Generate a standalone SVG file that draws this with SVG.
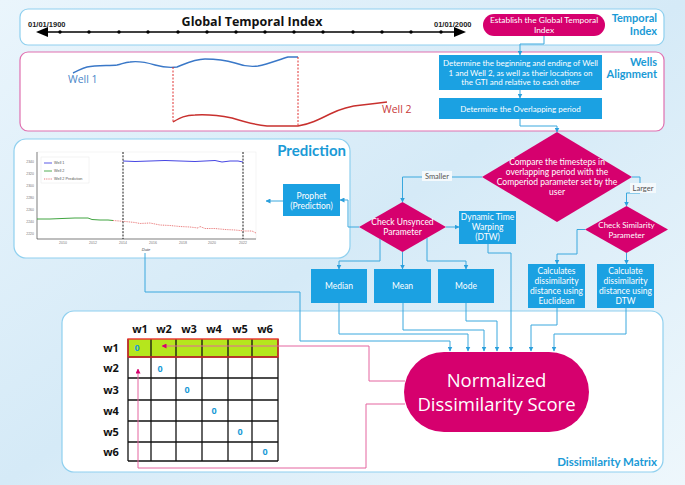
<svg xmlns="http://www.w3.org/2000/svg" width="685" height="485" viewBox="0 0 685 485">
<defs>
<linearGradient id="bg" x1="0" y1="0" x2="1" y2="1">
<stop offset="0" stop-color="#eaf5fc"/>
<stop offset="0.5" stop-color="#d5eaf7"/>
<stop offset="1" stop-color="#eef7fc"/>
</linearGradient>
<marker id="ab" viewBox="0 0 10 10" refX="9" refY="5" markerWidth="5" markerHeight="5" orient="auto" markerUnits="userSpaceOnUse">
<path d="M0,0 L10,5 L0,10 z" fill="#2b9fdc"/>
</marker>
<marker id="ap" viewBox="0 0 10 10" refX="9" refY="5" markerWidth="5" markerHeight="5" orient="auto" markerUnits="userSpaceOnUse">
<path d="M0,0 L10,5 L0,10 z" fill="#d6006e"/>
</marker>
<style>
.panel{fill:#fff;stroke:#8fd0ef;stroke-width:1.2}
.ptitle{font-family:Lato,"Open Sans",sans-serif;font-weight:bold;fill:#1a9ad6;text-anchor:end}
.box{fill:#1ba1e2}
.pink{fill:#d6006e}
.wt{font-family:Lato,"Open Sans",sans-serif;fill:#fff;text-anchor:middle}
.s8{font-size:8px}
.s83{font-size:8.4px}
.s85{font-size:8.5px}
.big{font-family:"Open Sans",sans-serif;font-size:18.5px}
.conn{fill:none;stroke:#3aa8de;stroke-width:1}
.pconn{fill:none;stroke:#e4649f;stroke-width:1}
.lbl{font-family:Lato,sans-serif;font-size:7.5px;fill:#555;text-anchor:middle}
.tick{font-family:"Liberation Sans",sans-serif;font-size:3.5px;fill:#777;text-anchor:middle}
.ytick{font-family:"Liberation Sans",sans-serif;font-size:3.5px;fill:#777;text-anchor:end}
.grid{fill:none;stroke:#111;stroke-width:1.3}
.mh{font-family:"Open Sans","Noto Sans",sans-serif;font-weight:bold;font-size:11px;fill:#111;text-anchor:middle}
.zero{font-family:"Open Sans",sans-serif;font-weight:bold;font-size:9px;fill:#1a9ad6;text-anchor:middle}
</style>
</defs>
<rect width="685" height="485" fill="url(#bg)"/>

<!-- Temporal Index panel -->
<g id="panel-temporal">
<rect class="panel" x="20" y="9" width="644" height="36" rx="8"/>
<text x="28" y="27" font-family="Liberation Sans,sans-serif" font-weight="bold" font-size="7.5" fill="#222">01/01/1900</text>
<text x="434" y="27" font-family="Liberation Sans,sans-serif" font-weight="bold" font-size="7.5" fill="#222">01/01/2000</text>
<text x="252" y="26" font-family="Open Sans,sans-serif" font-weight="bold" font-size="12.5" fill="#111" text-anchor="middle">Global Temporal Index</text>
<line x1="45" y1="32" x2="458" y2="32" stroke="#000" stroke-width="1.3"/>
<path d="M36,32 L48,27 L48,37 z" fill="#000"/>
<path d="M466,32 L454,27 L454,37 z" fill="#000"/>
<g fill="#000">
<circle cx="60" cy="32" r="1.7"/><circle cx="89" cy="32" r="1.7"/><circle cx="119" cy="32" r="1.7"/><circle cx="148" cy="32" r="1.7"/><circle cx="178" cy="32" r="1.7"/><circle cx="207" cy="32" r="1.7"/><circle cx="236" cy="32" r="1.7"/><circle cx="265" cy="32" r="1.7"/><circle cx="294" cy="32" r="1.7"/><circle cx="323" cy="32" r="1.7"/><circle cx="353" cy="32" r="1.7"/><circle cx="382" cy="32" r="1.7"/><circle cx="411" cy="32" r="1.7"/><circle cx="441" cy="32" r="1.7"/>
</g>
<text class="ptitle" x="657" y="22" font-size="11">Temporal</text>
<text class="ptitle" x="657" y="35" font-size="11">Index</text>
</g>
<g id="n-establish">
<rect class="pink" x="483" y="14" width="122" height="22" rx="11"/>
<text class="wt s83" x="544" y="23">Establish the Global Temporal</text>
<text class="wt s83" x="544" y="33">Index</text>
</g>

<!-- Wells Alignment panel -->
<g id="panel-wells">
<rect x="20" y="52" width="644" height="79" rx="8" fill="#fff" stroke="#e070b0" stroke-width="1.2"/>
<path d="M73,73 C78,71 82,68 87,67 C97,65 110,66 117,65 C122,64 125,62 130,62 C137,61 145,62 155,65 C162,67 170,68 177,67 C187,63 195,59 205,59 C215,59 225,60 235,63 C243,66 250,67 258,66 C268,64 278,60 288,57 L298,57" fill="none" stroke="#3a78c8" stroke-width="1.4"/>
<path d="M173,122 C180,118 185,115 195,115 C210,114 222,116 232,118 C245,122 255,125 267,126 L298,126 C310,124 318,120 330,114 C340,109 350,106 362,105 C372,104 380,103 387,102" fill="none" stroke="#c8302e" stroke-width="1.4"/>
<line x1="173" y1="67" x2="173" y2="122" stroke="#e03030" stroke-width="1" stroke-dasharray="2,1.5"/>
<line x1="298" y1="57" x2="298" y2="127" stroke="#e03030" stroke-width="1" stroke-dasharray="2,1.5"/>
<text x="68" y="83" font-family="Open Sans,sans-serif" font-size="10.5" fill="#4a86c8">Well 1</text>
<text x="382" y="113" font-family="Open Sans,sans-serif" font-size="10.5" fill="#c83a3a">Well 2</text>
<text class="ptitle" x="657" y="66" font-size="11">Wells</text>
<text class="ptitle" x="657" y="78" font-size="11">Alignment</text>
</g>
<g id="n-determine">
<rect class="box" x="439" y="55" width="163" height="35"/>
<text class="wt s8" x="520.5" y="66">Determine the beginning and ending of Well</text>
<text class="wt s8" x="520.5" y="75.5">1 and Well 2, as well as their locations on</text>
<text class="wt s8" x="520.5" y="85">the GTI and relative to each other</text>
</g>
<g id="n-overlap">
<rect class="box" x="439" y="98" width="163" height="21"/>
<text class="wt s8" x="520.5" y="111.5">Determine the Overlapping period</text>
</g>

<!-- Prediction panel -->
<g id="panel-prediction">
<rect class="panel" x="14" y="139" width="336" height="119" rx="12"/>
<text class="ptitle" x="346" y="156" font-size="15">Prediction</text>
<rect x="37" y="152" width="219" height="87" fill="#fff" stroke="#eee" stroke-width="0.6"/>
<line x1="37" y1="152" x2="37" y2="239" stroke="#333" stroke-width="0.6"/>
<line x1="37" y1="239" x2="256" y2="239" stroke="#333" stroke-width="0.6"/>
<g class="ytick">
<text x="34" y="163">2340</text><text x="34" y="175">2320</text><text x="34" y="187">2300</text><text x="34" y="199">2280</text><text x="34" y="211">2260</text><text x="34" y="223">2240</text><text x="34" y="235">2220</text>
</g>
<g class="tick">
<text x="63" y="244">2010</text><text x="93" y="244">2012</text><text x="123" y="244">2014</text><text x="153" y="244">2016</text><text x="183" y="244">2018</text><text x="212" y="244">2020</text><text x="243" y="244">2022</text>
</g>
<text x="146" y="251" font-family="Liberation Sans,sans-serif" font-size="4" font-style="italic" fill="#444" text-anchor="middle">Date</text>
<polyline points="123,161 135,161.5 150,161 165,160.5 180,161 195,161.5 205,161 215,160.5 222,162 230,161 238,161 243,162" fill="none" stroke="#3030e0" stroke-width="0.9"/>
<polyline points="37,219 50,219 62,218.5 75,218 88,218 92,219.5 100,220 108,220 113,220.5" fill="none" stroke="#2a9a2a" stroke-width="0.9"/>
<polyline points="113,220.5 125,221.5 135,222.5 140,223.5 150,223 160,225 170,225.5 180,226.5 190,227 198,228 200,226.5 205,228.5 215,228.5 225,229.5 235,230 245,231 252,231 256,233" fill="none" stroke="#e04040" stroke-width="0.7" stroke-dasharray="1,0.8"/>
<line x1="123" y1="152" x2="123" y2="239" stroke="#000" stroke-width="0.9" stroke-dasharray="2,1.3"/>
<line x1="243" y1="152" x2="243" y2="239" stroke="#000" stroke-width="0.9" stroke-dasharray="2,1.3"/>
<rect x="41" y="157" width="48" height="26" fill="#fff" stroke="#e8e8e8" stroke-width="0.5"/>
<line x1="44" y1="163" x2="52" y2="163" stroke="#3030e0" stroke-width="0.8"/>
<line x1="44" y1="171" x2="52" y2="171" stroke="#2a9a2a" stroke-width="0.8"/>
<line x1="44" y1="179" x2="52" y2="179" stroke="#e04040" stroke-width="0.7" stroke-dasharray="1,0.8"/>
<g font-family="Liberation Sans,sans-serif" font-size="3.8" fill="#555">
<text x="54" y="164.3">Well 1</text><text x="54" y="172.3">Well 2</text><text x="54" y="180.3">Well 2 Prediction</text>
</g>
</g>
<g id="n-prophet">
<rect class="box" x="283" y="184" width="57" height="32"/>
<text class="wt s85" x="311.5" y="199">Prophet</text>
<text class="wt s85" x="311.5" y="209">(Prediction)</text>
</g>

<!-- Dissimilarity Matrix panel -->
<g id="panel-matrix">
<rect class="panel" x="62" y="311" width="601" height="161" rx="12"/>
<text class="ptitle" x="657" y="466" font-size="11.5">Dissimilarity Matrix</text>
<rect x="128" y="339" width="150" height="18" fill="#b5e61d"/>
<g class="grid">
<line x1="128" y1="339" x2="128" y2="461"/><line x1="151" y1="339" x2="151" y2="461"/><line x1="176" y1="339" x2="176" y2="461"/><line x1="202" y1="339" x2="202" y2="461"/><line x1="228" y1="339" x2="228" y2="461"/><line x1="252" y1="339" x2="252" y2="461"/><line x1="278" y1="339" x2="278" y2="461"/>
<line x1="128" y1="357" x2="278" y2="357"/><line x1="128" y1="378" x2="278" y2="378"/><line x1="128" y1="400" x2="278" y2="400"/><line x1="128" y1="421" x2="278" y2="421"/><line x1="128" y1="442" x2="278" y2="442"/><line x1="128" y1="461" x2="278" y2="461"/>
</g>
<rect x="128" y="339" width="150" height="18" fill="none" stroke="#e8302e" stroke-width="1.4"/>
<g class="mh">
<text x="140" y="333">w1</text><text x="164" y="333">w2</text><text x="189" y="333">w3</text><text x="214" y="333">w4</text><text x="240" y="333">w5</text><text x="265" y="333">w6</text>
<text x="111" y="352">w1</text><text x="111" y="372">w2</text><text x="111" y="394">w3</text><text x="111" y="415">w4</text><text x="111" y="436">w5</text><text x="111" y="456">w6</text>
</g>
<g class="zero">
<text x="137" y="351">0</text><text x="160" y="372">0</text><text x="187" y="393">0</text><text x="214" y="414">0</text><text x="240" y="435">0</text><text x="265" y="455">0</text>
</g>
</g>

<!-- Flow nodes -->
<g id="n-compare">
<polygon class="pink" points="557,132 632,177 557,222 482,177"/>
<text class="wt s85" x="557" y="165">Compare the timesteps in</text>
<text class="wt s85" x="557" y="175">overlapping period with the</text>
<text class="wt s85" x="557" y="185">Comperiod parameter set by the</text>
<text class="wt s85" x="557" y="194.5">user</text>
</g>
<g id="n-unsynced">
<polygon class="pink" points="402.5,202 446,227 402.5,252 359,227"/>
<text class="wt s85" x="402.5" y="225">Check Unsynced</text>
<text class="wt s85" x="402.5" y="235">Parameter</text>
</g>
<g id="n-dtw">
<rect class="box" x="459" y="211" width="57" height="33"/>
<text class="wt s85" x="487.5" y="220">Dynamic Time</text>
<text class="wt s85" x="487.5" y="230">Warping</text>
<text class="wt s85" x="487.5" y="240">(DTW)</text>
</g>
<g id="n-similarity">
<polygon class="pink" points="626.5,206 668,229.5 626.5,253 585,229.5"/>
<text class="wt s8" x="626.5" y="227.5">Check Similarity</text>
<text class="wt s8" x="626.5" y="237.5">Parameter</text>
</g>
<g id="n-median">
<rect class="box" x="311" y="269" width="56" height="34"/>
<text class="wt s85" x="339" y="289">Median</text>
</g>
<g id="n-mean">
<rect class="box" x="374" y="269" width="57" height="34"/>
<text class="wt s85" x="402.5" y="289">Mean</text>
</g>
<g id="n-mode">
<rect class="box" x="438" y="269" width="56" height="34"/>
<text class="wt s85" x="466" y="289">Mode</text>
</g>
<g id="n-euclid">
<rect class="box" x="528" y="264" width="57" height="44"/>
<text class="wt s85" x="556.5" y="274">Calculates</text>
<text class="wt s85" x="556.5" y="284">dissimilarity</text>
<text class="wt s85" x="556.5" y="294">distance using</text>
<text class="wt s85" x="556.5" y="304">Euclidean</text>
</g>
<g id="n-dtwdist">
<rect class="box" x="597" y="264" width="57" height="44"/>
<text class="wt s85" x="625.5" y="274">Calculate</text>
<text class="wt s85" x="625.5" y="284">dissimilarity</text>
<text class="wt s85" x="625.5" y="294">distance using</text>
<text class="wt s85" x="625.5" y="304">DTW</text>
</g>
<g id="n-score">
<rect class="pink" x="404" y="352" width="185" height="80" rx="40"/>
<text class="wt big" x="496.5" y="387">Normalized</text>
<text class="wt big" x="496.5" y="411">Dissimilarity Score</text>
</g>

<!-- Connectors -->
<g id="connectors">
<path class="conn" d="M544,36 V44 H520 V55" marker-end="url(#ab)"/>
<path class="conn" d="M520,90 V98" marker-end="url(#ab)"/>
<path class="conn" d="M520,119 V126 H557 V132" marker-end="url(#ab)"/>
<path class="conn" d="M482,177 H402.5 V202" marker-end="url(#ab)"/>
<path class="conn" d="M632,177 H640 V193 H626.5 V206" marker-end="url(#ab)"/>
<path class="conn" d="M359,227 H348 V200 H340" marker-end="url(#ab)"/>
<path class="conn" d="M283,201 H266" marker-end="url(#ab)"/>
<path class="conn" d="M446,227 H459" marker-end="url(#ab)"/>
<path class="conn" d="M380,239 V261 H339 V269" marker-end="url(#ab)"/>
<path class="conn" d="M402.5,252 V269" marker-end="url(#ab)"/>
<path class="conn" d="M427,238 V261 H466 V269" marker-end="url(#ab)"/>
<path class="conn" d="M585,229.5 H577 V254 H557 V264" marker-end="url(#ab)"/>
<path class="conn" d="M626.5,253 V264" marker-end="url(#ab)"/>
<path class="conn" d="M145,253 V292 H300 V341 H450 V351" marker-end="url(#ab)"/>
<path class="conn" d="M339,303 V334 H468 V351" marker-end="url(#ab)"/>
<path class="conn" d="M403,303 V330 H484 V351" marker-end="url(#ab)"/>
<path class="conn" d="M466,303 V321 H497 V351" marker-end="url(#ab)"/>
<path class="conn" d="M488,244 V253 H511 V351" marker-end="url(#ab)"/>
<path class="conn" d="M557,308 V325 H531 V351" marker-end="url(#ab)"/>
<path class="conn" d="M626,308 V334 H554 V351" marker-end="url(#ab)"/>
<path class="pconn" d="M405,381 H369 V346 H162" marker-end="url(#ap)"/>
<path class="pconn" d="M405,404 H366 V468 H138 V369" marker-end="url(#ap)"/>
<rect x="422" y="171" width="30" height="10" fill="#f4f9fc"/>
<text class="lbl" x="437" y="178.5">Smaller</text>
<rect x="630" y="183" width="26" height="10" fill="#f4f9fc"/>
<text class="lbl" x="643" y="190.5">Larger</text>
</g>
</svg>
